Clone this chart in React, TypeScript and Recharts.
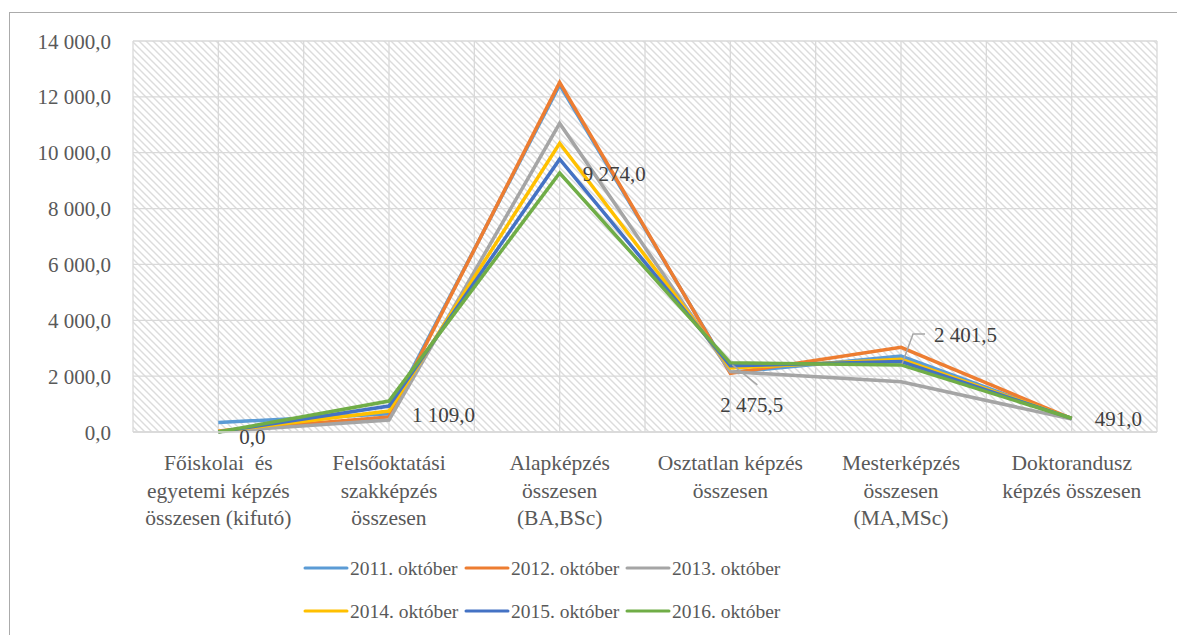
import React from 'react';
import { LineChart, Line, XAxis, YAxis, CartesianGrid, Legend } from 'recharts';

const categories = [
  'Főiskolai  és\negyetemi képzés\nösszesen (kifutó)',
  'Felsőoktatási\nszakképzés\nösszesen',
  'Alapképzés\nösszesen\n(BA,BSc)',
  'Osztatlan képzés\nösszesen',
  'Mesterképzés\nösszesen\n(MA,MSc)',
  'Doktorandusz\nképzés összesen',
];

const s2011 = [340, 650, 12430, 2130, 2720, 470];
const s2012 = [40, 540, 12520, 2100, 3030, 480];
const s2013 = [10, 430, 11050, 2160, 1800, 460];
const s2014 = [15, 750, 10340, 2290, 2600, 485];
const s2015 = [5, 930, 9770, 2370, 2520, 490];
const s2016 = [0, 1109, 9274, 2475.5, 2401.5, 491];

const yTicks = [0, 2000, 4000, 6000, 8000, 10000, 12000, 14000];

const seriesNames = ['2011. október', '2012. október', '2013. október', '2014. október', '2015. október', '2016. október'];
const seriesColors = ['#5B9BD5', '#ED7D31', '#A5A5A5', '#FFC000', '#4472C4', '#70AD47'];
const seriesValues = [s2011, s2012, s2013, s2014, s2015, s2016];

const data = categories.map((cat, i) => {
  const row: Record<string, number | string> = { cat };
  seriesNames.forEach((n, k) => {
    row[n] = seriesValues[k][i];
  });
  return row;
});

const FONT = "'Liberation Serif', 'Times New Roman', 'DejaVu Serif', serif";
const txt = { fontFamily: FONT };

const fmt = (v: number) => {
  const fixed = Math.abs(v).toFixed(1);
  const [intPart, dec] = fixed.split('.');
  const withSpaces = intPart.replace(/\B(?=(\d{3})+(?!\d))/g, ' ');
  return (v < 0 ? '-' : '') + withSpaces + ',' + dec;
};

const XTick = (props: any) => {
  const { x, y, payload } = props;
  const lines = String(payload.value).split('\n');
  return (
    <text x={x} y={y} textAnchor="middle" fill="#595959" fontSize={21.5} style={txt}>
      {lines.map((l, i) => (
        <tspan key={i} x={x} dy={i === 0 ? 30 : 27.5} style={{ whiteSpace: 'pre', fontFamily: FONT }}>
          {l}
        </tspan>
      ))}
    </text>
  );
};

const YTick = (props: any) => {
  const { x, y, payload } = props;
  return (
    <text x={x} y={y} dy={7.5} textAnchor="end" fill="#595959" fontSize={21} style={txt}>
      {fmt(payload.value)}
    </text>
  );
};

// label placement for the 2016 series (relative to each point)
const labelPlacement: { dx: number; dy: number; leader?: number[][] }[] = [
  { dx: 21, dy: 4 },
  { dx: 23, dy: 13 },
  { dx: 23, dy: 1 },
  { dx: -10, dy: 42, leader: [[27, 22], [2, 2]] },
  { dx: 33, dy: -30, leader: [[1, -1], [12, -31], [24, -31]] },
  { dx: 23, dy: 0 },
];

const renderLabel = (props: any) => {
  const { x, y, index, value } = props;
  const p = labelPlacement[index] || { dx: 20, dy: 0 };
  return (
    <g key={`lbl-${index}`}>
      {p.leader && (
        <polyline
          points={p.leader.map(([a, b]) => `${x + a},${y + b}`).join(' ')}
          fill="none"
          stroke="#A6A6A6"
          strokeWidth={1.5}
        />
      )}
      <text x={x + p.dx} y={y + p.dy} dy={7.5} textAnchor="start" fill="#404040" fontSize={21} style={txt}>
        {fmt(Number(value))}
      </text>
    </g>
  );
};

const LegendContent = (props: any) => {
  const payload = props.payload || [];
  return (
    <svg width={1177} height={90} style={{ display: 'block' }}>
      {payload.map((item: any, i: number) => {
        const col = i % 3;
        const row = Math.floor(i / 3);
        const x0 = 305 + col * 161;
        const cy = 20 + row * 43;
        return (
          <g key={i}>
            <line x1={x0} y1={cy} x2={x0 + 42} y2={cy} stroke={item.color} strokeWidth={3} strokeLinecap="round" />
            <text x={x0 + 45} y={cy} dy={7} fill="#595959" fontSize={19.5} style={txt}>
              {item.value}
            </text>
          </g>
        );
      })}
    </svg>
  );
};

export default function App() {
  return (
    <div style={{ position: 'absolute', left: 0, top: 0, width: 1177, height: 635, background: '#fff', overflow: 'hidden', fontFamily: FONT }}>
      <div
        style={{
          position: 'absolute',
          left: 9,
          top: 12,
          width: 1200,
          height: 700,
          borderLeft: '1.5px solid #ABABAB',
          borderTop: '1.5px solid #ABABAB',
        }}
      />
      <div style={{ position: 'absolute', left: 0, top: 0 }}>
        <LineChart width={1177} height={635} data={data} margin={{ top: 41, right: 20, left: 0, bottom: 0 }} style={{ fontFamily: FONT }}>
          <defs>
            <pattern id="hatch" width="7" height="7" patternUnits="userSpaceOnUse">
              <rect width="7" height="7" fill="#ffffff" />
              <path d="M0,0 L7,7 M-2,5 L2,9 M5,-2 L9,2" stroke="#DCDCDC" strokeWidth={1.4} />
            </pattern>
          </defs>
          <CartesianGrid
            fill="url(#hatch)"
            fillOpacity={1}
            stroke="#D9D9D9"
            strokeWidth={1.3}
            verticalCoordinatesGenerator={(p: any) => {
              const off = p.offset;
              const out: number[] = [];
              for (let i = 0; i <= 12; i++) out.push(off.left + (i * off.width) / 12);
              return out;
            }}
          />
          <XAxis
            dataKey="cat"
            height={203}
            interval={0}
            tick={<XTick />}
            tickLine={false}
            axisLine={{ stroke: '#D9D9D9', strokeWidth: 1.5 }}
            padding={{ left: 85.3, right: 85.3 }}
          />
          <YAxis
            width={133}
            domain={[0, 14000]}
            ticks={yTicks}
            interval={0}
            tick={<YTick />}
            tickLine={false}
            axisLine={false}
            tickMargin={16}
          />
          <Legend
            layout="horizontal"
            verticalAlign="middle"
            align="center"
            wrapperStyle={{ position: 'absolute', left: 0, top: 548, width: 1177, height: 90 }}
            content={<LegendContent />}
          />
          {seriesNames.map((n, k) => (
            <Line
              key={n}
              type="linear"
              dataKey={n}
              name={n}
              stroke={seriesColors[k]}
              strokeWidth={3.5}
              dot={false}
              activeDot={false}
              isAnimationActive={false}
              label={k === 5 ? renderLabel : undefined}
            />
          ))}
        </LineChart>
      </div>
    </div>
  );
}
